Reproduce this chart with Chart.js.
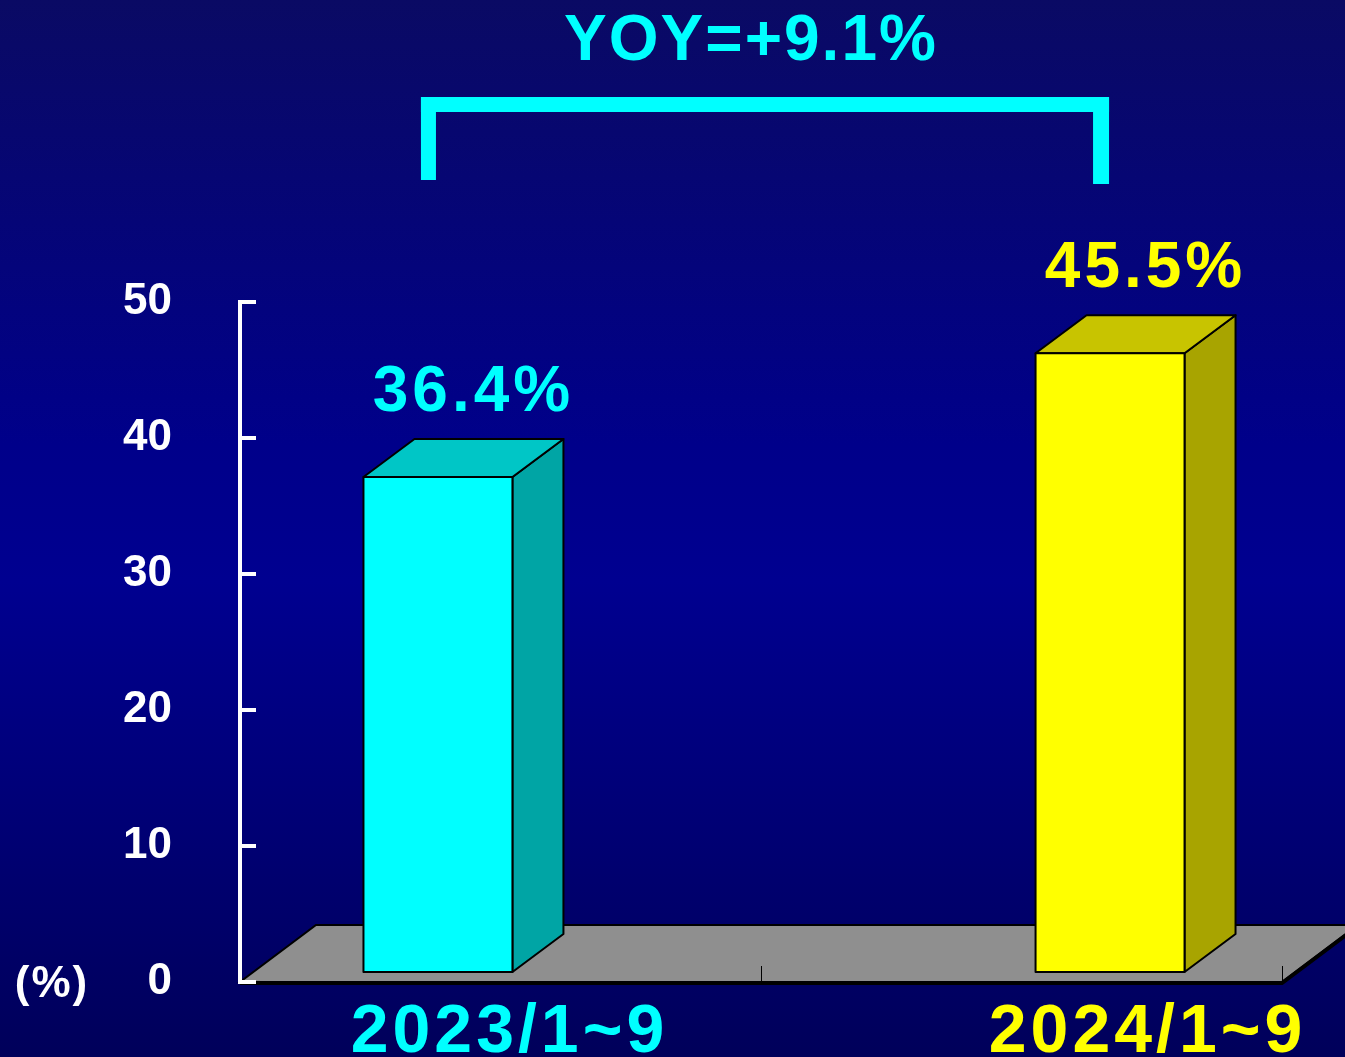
<!DOCTYPE html>
<html>
<head>
<meta charset="utf-8">
<script src="https://cdn.jsdelivr.net/npm/chart.js@4.4.1/dist/chart.umd.min.js"></script>
<style>
  html, body { margin: 0; padding: 0; }
  body {
    width: 1345px; height: 1057px; overflow: hidden;
    background: linear-gradient(to bottom, #0a0a64 0%, #00008a 42%, #000090 55%, #00005a 100%);
  }
  canvas { display: block; }
</style>
</head>
<body>
<canvas id="chart" width="1345" height="1057"></canvas>
<script>
// --- datos ---
const categories = ['2023/1~9', '2024/1~9'];
const shares = [36.4, 45.5];
const yMin = 0, yMax = 50, yStep = 10;

// colores: frente, arriba, lado
const faces = [
  { front: '#00ffff', top: '#00c6c6', side: '#00a5a5', text: '#00ffff' },
  { front: '#ffff00', top: '#c8c400', side: '#a8a400', text: '#ffff00' }
];
const FONT = "'Comic Sans MS', 'Liberation Sans', Arial, sans-serif";

// 3D: desplazamiento de la cara frontal y profundidad
const OX = 13, OY = -10;     // barra dentro del suelo
const DX = 51, DY = -38;     // profundidad de la barra
const FX = 76, FY = -57;     // profundidad del suelo
const labelNudge = [16, -18]; // ajuste horizontal de las etiquetas de categoría

const bars3d = {
  id: 'bars3d',
  afterDatasetsDraw(chart) {
    const { ctx, chartArea: a } = chart;
    ctx.save();

    // suelo gris
    ctx.beginPath();
    ctx.moveTo(a.left, a.bottom);
    ctx.lineTo(a.right, a.bottom);
    ctx.lineTo(a.right + FX, a.bottom + FY);
    ctx.lineTo(a.left + FX, a.bottom + FY);
    ctx.closePath();
    ctx.fillStyle = '#8f8f8f';
    ctx.fill();
    ctx.strokeStyle = '#000';
    ctx.lineWidth = 2;
    ctx.stroke();
    ctx.lineWidth = 4;
    ctx.beginPath();
    ctx.moveTo(a.left, a.bottom + 1);
    ctx.lineTo(a.right, a.bottom + 1);
    ctx.lineTo(a.right + FX, a.bottom + FY + 1);
    ctx.stroke();

    // marcas de categoría sobre el suelo
    ctx.lineWidth = 1;
    for (let i = 1; i <= categories.length; i++) {
      const px = Math.round(a.left + (a.right - a.left) * i / categories.length) + 0.5;
      ctx.beginPath();
      ctx.moveTo(px, a.bottom);
      ctx.lineTo(px, a.bottom - 16);
      ctx.stroke();
    }

    // eje Y blanco con marcas hacia dentro
    const ys = chart.scales.y;
    ctx.strokeStyle = '#fff';
    ctx.lineWidth = 4;
    ctx.beginPath();
    ctx.moveTo(a.left, ys.getPixelForValue(yMax) - 2);
    ctx.lineTo(a.left, a.bottom + 2);
    ctx.stroke();
    for (let v = yMin; v <= yMax; v += yStep) {
      const py = ys.getPixelForValue(v);
      ctx.beginPath();
      ctx.moveTo(a.left, py);
      ctx.lineTo(a.left + 16, py);
      ctx.stroke();
    }

    // barras 3D
    const centers = [];
    chart.data.datasets.forEach((ds, i) => {
      const el = chart.getDatasetMeta(i).data[i];
      const p = el.getProps(['x', 'y', 'base', 'width'], true);
      const c = faces[i];
      const l = p.x - p.width / 2 + OX, r = p.x + p.width / 2 + OX;
      const t = p.y + OY, b = p.base + OY;
      centers.push(p.x + OX);

      ctx.strokeStyle = '#000';
      ctx.lineWidth = 2;
      ctx.lineJoin = 'round';
      // lado
      ctx.beginPath();
      ctx.moveTo(r, t); ctx.lineTo(r + DX, t + DY); ctx.lineTo(r + DX, b + DY); ctx.lineTo(r, b);
      ctx.closePath();
      ctx.fillStyle = c.side; ctx.fill(); ctx.stroke();
      // arriba
      ctx.beginPath();
      ctx.moveTo(l, t); ctx.lineTo(r, t); ctx.lineTo(r + DX, t + DY); ctx.lineTo(l + DX, t + DY);
      ctx.closePath();
      ctx.fillStyle = c.top; ctx.fill(); ctx.stroke();
      // frente
      ctx.fillStyle = c.front;
      ctx.fillRect(l, t, r - l, b - t);
      ctx.strokeRect(l, t, r - l, b - t);

      // etiqueta de valor
      ctx.fillStyle = c.text;
      ctx.font = 'bold 64px ' + FONT;
      ctx.letterSpacing = '4px';
      ctx.textAlign = 'center';
      ctx.textBaseline = 'alphabetic';
      ctx.fillText(ds.data[i].toFixed(1) + '%', (l + r + DX) / 2 + 10, t + DY - 28);

      // etiqueta de categoría
      ctx.font = 'bold 68px ' + FONT;
      ctx.letterSpacing = '4px';
      ctx.fillText(categories[i], (l + r + DX) / 2 + 30 + labelNudge[i], a.bottom + 70);
    });

    // corchete YOY
    const x1 = centers[0] - 9, x2 = centers[1] - 9;
    const yb = a.top - 197;
    ctx.fillStyle = '#00ffff';
    ctx.fillRect(x1 - 8, yb - 8, x2 - x1 + 16, 15);
    ctx.fillRect(x1 - 8, yb - 8, 15, 83);
    ctx.fillRect(x2 - 8, yb - 8, 16, 87);
    const yoy = shares[1] - shares[0];
    ctx.font = 'bold 64px ' + FONT;
    ctx.letterSpacing = '2px';
    ctx.textAlign = 'center';
    ctx.fillText('YOY=' + (yoy >= 0 ? '+' : '') + yoy.toFixed(1) + '%', (x1 + x2) / 2 - 14, a.top - 242);

    // unidad
    ctx.fillStyle = '#fff';
    ctx.font = 'bold 44px ' + FONT;
    ctx.letterSpacing = '2px';
    ctx.fillText('(%)', 52, a.bottom + 15);

    ctx.restore();
  }
};

new Chart(document.getElementById('chart'), {
  type: 'bar',
  data: {
    labels: categories,
    datasets: categories.map((c, i) => ({
      label: c,
      data: shares.map((v, j) => (j === i ? v : null)),
      backgroundColor: 'rgba(0,0,0,0)',
      borderWidth: 0,
      categoryPercentage: 0.58,
      barPercentage: 0.986
    }))
  },
  options: {
    responsive: false,
    animation: false,
    devicePixelRatio: 1,
    layout: { padding: { top: 302, right: 63, bottom: 75, left: 0 } },
    plugins: { legend: { display: false }, tooltip: { enabled: false } },
    scales: {
      x: { display: false },
      y: {
        min: yMin, max: yMax,
        // la separación va en tickLength (invisible) para no inflar el margen inferior
        ticks: { stepSize: yStep, padding: 8, color: '#fff', font: { family: FONT, size: 44, weight: 'bold' } },
        grid: { display: false, drawTicks: true, tickLength: 60 },
        border: { display: false },
        afterFit(s) { s.width = 240; }
      }
    }
  },
  plugins: [bars3d]
});
</script>
</body>
</html>
